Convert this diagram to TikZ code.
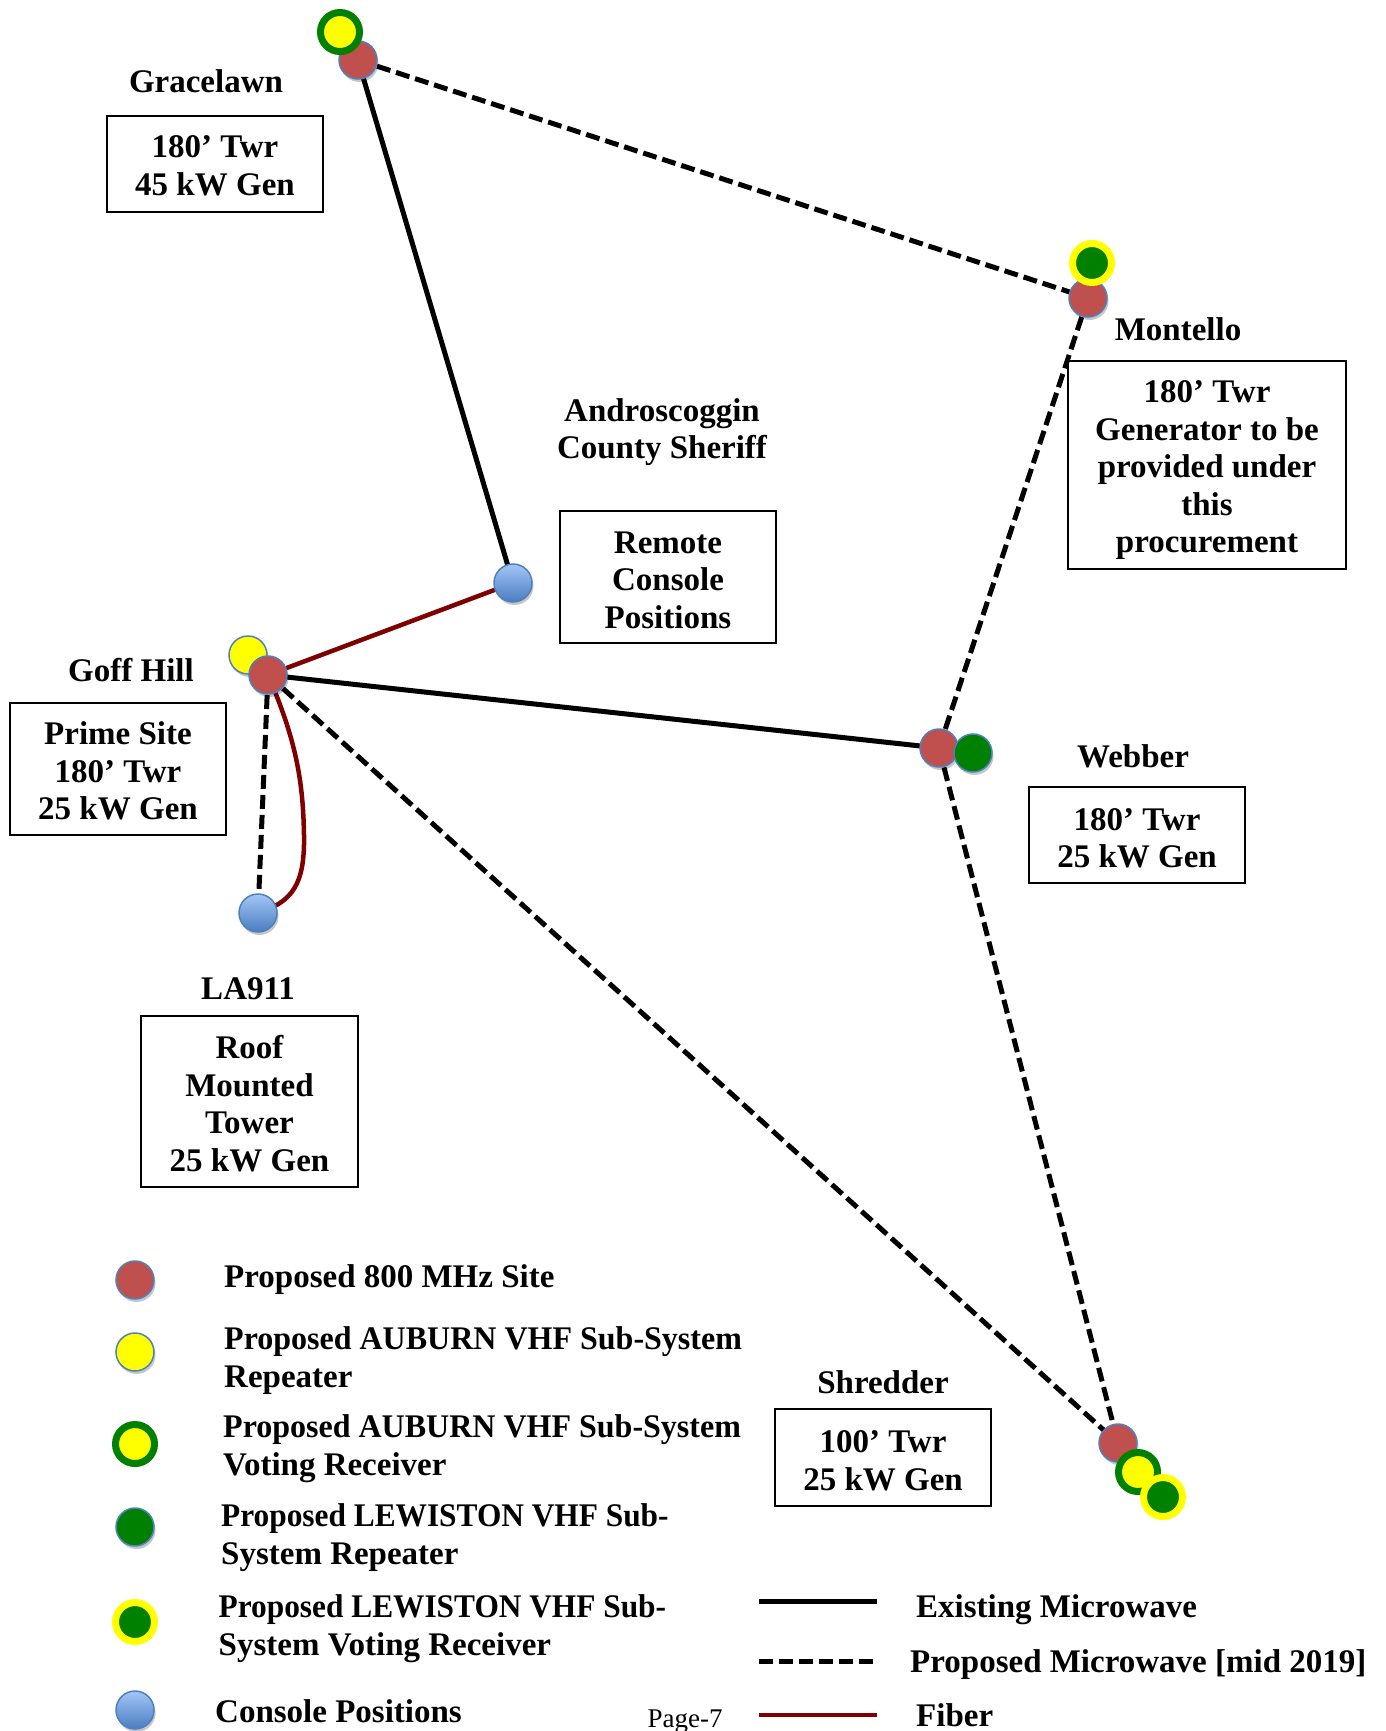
\documentclass[tikz,border=0pt]{standalone}
\usepackage{fontspec}
\setmainfont{Liberation Serif}
\newfontfamily\narrowA{Liberation Serif}[FakeStretch=0.97]
\newfontfamily\narrowB{Liberation Serif}[FakeStretch=0.95]
\usetikzlibrary{shadows}
\definecolor{redc}{HTML}{C0504D}
\definecolor{bordc}{HTML}{4F81BD}
\definecolor{greenc}{HTML}{008000}
\definecolor{yellowc}{HTML}{FFFF00}
\definecolor{bluetop}{HTML}{A3C6F7}
\definecolor{bluebot}{HTML}{4A7DC0}
\definecolor{fiberc}{HTML}{7F0000}
\tikzset{
  shad/.style={drop shadow={shadow xshift=1.5pt, shadow yshift=-3pt, opacity=0.22, fill=black}},
  site/.style={circle, inner sep=0pt, minimum size=38pt, draw=bordc, line width=1.5pt, shad},
  rsite/.style={site, fill=redc},
  ysite/.style={site, fill=yellowc},
  gsite/.style={site, fill=greenc},
  csite/.style={site, top color=bluetop, bottom color=bluebot},
  yvote/.style={circle, inner sep=0pt, minimum size=39pt, fill=yellowc, draw=greenc, line width=7pt, shad},
  gvote/.style={circle, inner sep=0pt, minimum size=39pt, fill=greenc, draw=yellowc, line width=7pt, shad},
  lbl/.style={font=\fontsize{33}{37.5}\selectfont\bfseries, inner sep=0pt},
  frame/.style={draw=black, line width=2pt, inner sep=0pt},
  boxtext/.style={lbl, align=center},
  exmw/.style={line width=5pt, black},
  prmw/.style={line width=5pt, black, dash pattern=on 14pt off 6pt},
  fiber/.style={line width=4.5pt, fiberc},
}
\begin{document}
\begin{tikzpicture}[x=1pt,y=-1pt]
\useasboundingbox (0,0) rectangle (1385,1731);
\fill[white] (0,0) rectangle (1385,1731);
% site coordinates
\coordinate (graceR) at (358,60);
\coordinate (graceV) at (340,32);
\coordinate (montR) at (1088,298);
\coordinate (montV) at (1092,263);
\coordinate (goffR) at (268,675);
\coordinate (goffY) at (248,655);
\coordinate (laC) at (258,913);
\coordinate (andC) at (513,583);
\coordinate (webR) at (939,748);
\coordinate (webG) at (973,753);
\coordinate (shrR) at (1118,1443);
\coordinate (shrY) at (1138,1472);
\coordinate (shrG) at (1163,1497);
\coordinate (fb) at (304,835);
% connectors
\draw[exmw] (graceR) -- (andC);
\draw[exmw] (goffR) -- (webR);
\draw[prmw] (graceR) -- (montR);
\draw[prmw] (montR) -- (webR);
\draw[prmw] (webR) -- (shrR);
\draw[prmw] (goffR) -- (shrR);
\draw[prmw] (goffR) -- (laC);
\draw[fiber] (goffR) -- (andC);
\draw[fiber] (goffR) .. controls (296,740) and (303,780) .. (fb) .. controls (305,885) and (292,902) .. (laC);
% site circles
\node[rsite] (graceRn) at (graceR) {};
\node[yvote] (graceVn) at (graceV) {};
\node[rsite] (montRn) at (montR) {};
\node[gvote] (montVn) at (montV) {};
\node[ysite] (goffYn) at (goffY) {};
\node[rsite] (goffRn) at (goffR) {};
\node[csite] (laCn) at (laC) {};
\node[csite] (andCn) at (andC) {};
\node[rsite] (webRn) at (webR) {};
\node[gsite] (webGn) at (webG) {};
\node[rsite] (shrRn) at (shrR) {};
\node[yvote] (shrYn) at (shrY) {};
\node[gvote] (shrGn) at (shrG) {};
% titles
\node[lbl, anchor=base] (tGrace) at (206,93) {Gracelawn};
\node[lbl, anchor=base] (tMont) at (1178,340) {Montello};
\node[lbl, align=center] (tAndro) at (662,432) {Androscoggin\\County Sheriff};
\node[lbl, anchor=base] (tGoff) at (131,681) {Goff Hill};
\node[lbl, anchor=base] (tWeb) at (1133,767) {Webber};
\node[lbl, anchor=base] (tLA) at (248,999) {LA911};
\node[lbl, anchor=base] (tShr) at (883,1393) {Shredder};
% boxes
\node[frame, minimum width=216pt, minimum height=96pt] (bGrace) at (215,164) {};
\node[boxtext] (xGrace) at ([yshift=-2pt]bGrace.center) {180’ Twr\\45 kW Gen};
\node[frame, minimum width=278pt, minimum height=208pt] (bMont) at (1207,465) {};
\node[boxtext] (xMont) at ([yshift=-5.5pt]bMont.center) {180’ Twr\\Generator to be\\provided under\\this\\procurement};
\node[frame, minimum width=216pt, minimum height=132pt] (bAndro) at (668,577) {};
\node[boxtext] (xAndro) at ([yshift=-3.3pt]bAndro.center) {Remote\\Console\\Positions};
\node[frame, minimum width=216pt, minimum height=132pt] (bGoff) at (118,769) {};
\node[boxtext] (xGoff) at ([yshift=-2.2pt]bGoff.center) {Prime Site\\180’ Twr\\25 kW Gen};
\node[frame, minimum width=216pt, minimum height=96pt] (bWeb) at (1137,835) {};
\node[boxtext] (xWeb) at ([yshift=-3.3pt]bWeb.center) {180’ Twr\\25 kW Gen};
\node[frame, minimum width=217pt, minimum height=171pt] (bLA) at (249.5,1101.5) {};
\node[boxtext] (xLA) at ([yshift=-2.2pt]bLA.center) {Roof\\Mounted\\Tower\\25 kW Gen};
\node[frame, minimum width=216pt, minimum height=97pt] (bShr) at (883,1457.5) {};
\node[boxtext] (xShr) at ([yshift=-3.3pt]bShr.center) {100’ Twr\\25 kW Gen};
% legend symbols
\node[rsite] (lg1) at (135,1280) {};
\node[ysite] (lg2) at (135,1352) {};
\node[yvote] (lg3) at (135,1444) {};
\node[gsite] (lg4) at (135,1527) {};
\node[gvote] (lg5) at (135,1622) {};
\node[csite] (lg6) at (135,1710) {};
\node[lbl, anchor=west] (lt1) at (224,1279.5) {Proposed 800 MHz Site};
\node[lbl, anchor=west, align=left] (lt2) at (224,1360.5) {{\narrowA Proposed AUBURN VHF Sub-System}\\Repeater};
\node[lbl, anchor=west, align=left] (lt3) at (223,1448.5) {{\narrowA Proposed AUBURN VHF Sub-System}\\Voting Receiver};
\node[lbl, anchor=west, align=left] (lt4) at (221,1537.5) {{\narrowB Proposed LEWISTON VHF Sub-}\\System Repeater};
\node[lbl, anchor=west, align=left] (lt5) at (218.5,1628.5) {{\narrowB Proposed LEWISTON VHF Sub-}\\System Voting Receiver};
\node[lbl, anchor=west] (lt6) at (215,1711.5) {Console Positions};
% legend lines
\coordinate (l1a) at (759,1601); \coordinate (l1b) at (877,1601);
\coordinate (l2a) at (759,1661); \coordinate (l2b) at (877,1661);
\coordinate (l3a) at (759,1715); \coordinate (l3b) at (877,1715);
\draw[exmw] (l1a) -- (l1b);
\draw[prmw] (l2a) -- (l2b);
\draw[fiber] (l3a) -- (l3b);
\node[lbl, anchor=base west] (ll1) at (916,1617) {Existing Microwave};
\node[lbl, anchor=base west] (ll2) at (910,1672) {Proposed Microwave [mid 2019]};
\node[lbl, anchor=base west] (ll3) at (916,1726) {Fiber};
\node[font=\fontsize{27}{30}\selectfont, inner sep=0pt, anchor=base] (pg) at (685,1727) {Page-7};
\end{tikzpicture}
\end{document}
